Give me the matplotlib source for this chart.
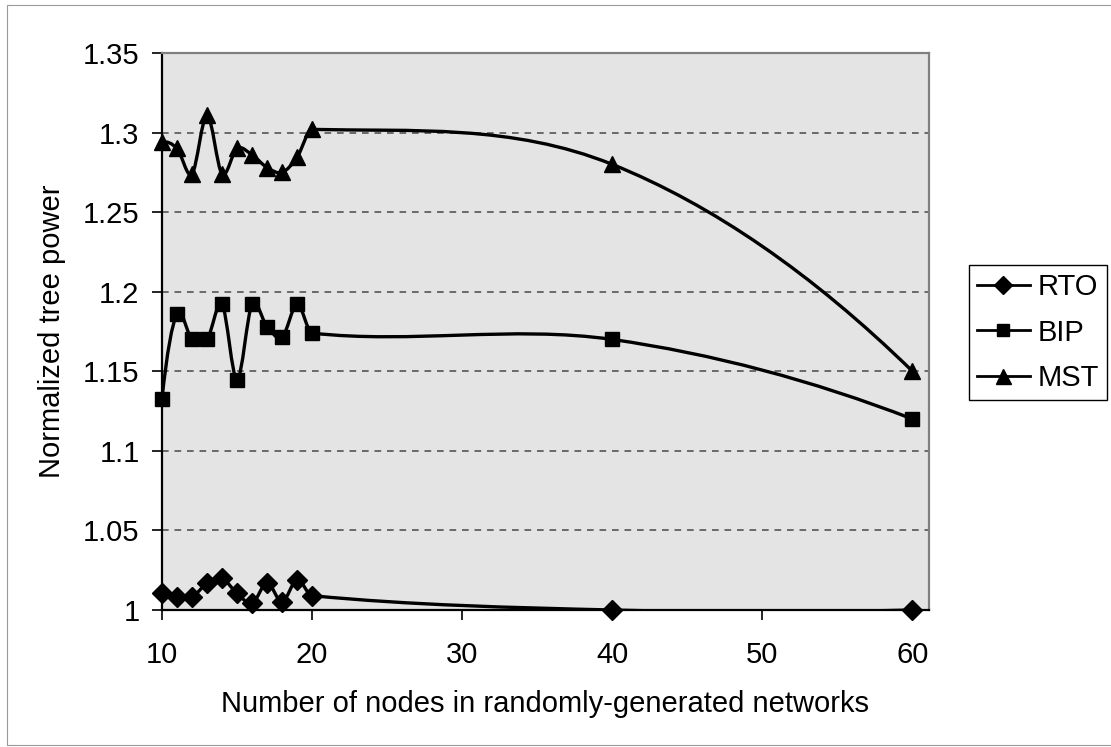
import numpy as np
import matplotlib
matplotlib.use("Agg")
import matplotlib.pyplot as plt
from matplotlib.path import Path
from matplotlib.patches import PathPatch, Rectangle
from matplotlib.lines import Line2D

plt.rcParams["font.family"] = ["Liberation Sans", "DejaVu Sans"]

# values
nodes = [10, 11, 12, 13, 14, 15, 16, 17, 18, 19, 20, 40, 60]
rto = [1.0108, 1.0083, 1.0083, 1.0167, 1.0198, 1.0104, 1.0042, 1.017, 1.0052, 1.019, 1.009, 1.0, 1.0]
bip = [1.1327, 1.186, 1.170, 1.170, 1.192, 1.1447, 1.192, 1.178, 1.1714, 1.192, 1.174, 1.170, 1.120]
mst = [1.294, 1.290, 1.274, 1.311, 1.274, 1.290, 1.286, 1.278, 1.275, 1.2845, 1.302, 1.280, 1.150]

series = [("RTO", rto, "D", 10), ("BIP", bip, "s", 10), ("MST", mst, "^", 12)]

x_ticks = [10, 20, 30, 40, 50, 60]
y_ticks = [1, 1.05, 1.1, 1.15, 1.2, 1.25, 1.3, 1.35]
y_labels = ["1", "1.05", "1.1", "1.15", "1.2", "1.25", "1.3", "1.35"]

FS = 21


def smooth_path(xs, ys):
    # smoothed line like a spreadsheet "smoothed line" option (cubic Hermite -> Bezier)
    xs = np.asarray(xs, float)
    ys = np.asarray(ys, float)
    n = len(xs)
    m = np.zeros(n)
    for i in range(1, n - 1):
        m[i] = (ys[i + 1] - ys[i - 1]) / (xs[i + 1] - xs[i - 1])
    m[0] = 2 * (ys[1] - ys[0]) / (xs[1] - xs[0]) - m[1]
    m[-1] = 2 * (ys[-1] - ys[-2]) / (xs[-1] - xs[-2]) - m[-2]
    verts = [(xs[0], ys[0])]
    codes = [Path.MOVETO]
    for i in range(n - 1):
        h = xs[i + 1] - xs[i]
        verts += [(xs[i] + h / 3, ys[i] + m[i] * h / 3),
                  (xs[i + 1] - h / 3, ys[i + 1] - m[i + 1] * h / 3),
                  (xs[i + 1], ys[i + 1])]
        codes += [Path.CURVE4] * 3
    return Path(verts, codes)


fig = plt.figure(figsize=(11.11, 7.47), dpi=100)
ax = fig.add_axes([162 / 1111, 1 - 610 / 747, 767 / 1111, 557 / 747])
ax.set_facecolor("#e4e4e4")

ax.set_xlim(10, 61.1)
ax.set_ylim(1, 1.35)

for yv in y_ticks[1:-1]:
    ax.axhline(yv, color="#555555", lw=1.2, dashes=(4, 3.5), zorder=1)

handles = []
for name, vals, mk, ms in series:
    ax.add_patch(PathPatch(smooth_path(nodes, vals), fill=False, edgecolor="black",
                           lw=2.4, zorder=3, capstyle="round", joinstyle="round"))
    ax.plot(nodes, vals, linestyle="none", marker=mk, markersize=ms,
            color="black", zorder=4, clip_on=False)
    handles.append(Line2D([], [], color="black", lw=2.0, marker=mk, markersize=ms * 0.9, label=name))

ax.set_xticks(x_ticks)
ax.set_xticklabels([str(v) for v in x_ticks])
ax.set_yticks(y_ticks)
ax.set_yticklabels(y_labels)
ax.tick_params(axis="both", direction="out", length=7.2, width=1.2, labelsize=FS, colors="black")
ax.tick_params(axis="x", pad=15)
ax.tick_params(axis="y", pad=9)

for side in ["left", "bottom"]:
    ax.spines[side].set_color("black")
    ax.spines[side].set_linewidth(1.6)
for side in ["top", "right"]:
    ax.spines[side].set_color("#808080")
    ax.spines[side].set_linewidth(1.6)

fig.text(545 / 1111, 1 - 712 / 747, "Number of nodes in randomly-generated networks",
         ha="center", va="baseline", fontsize=FS)
fig.text(52 / 1111, 1 - 331.5 / 747, "Normalized tree power",
         ha="center", va="center", rotation=90, fontsize=FS)

leg = ax.legend(handles=handles, loc="upper left",
                bbox_to_anchor=(969 / 1111, 1 - 265 / 747), bbox_transform=fig.transFigure,
                fontsize=FS, frameon=True, fancybox=False, edgecolor="black",
                framealpha=1, borderpad=0.28, labelspacing=0.6,
                handlelength=1.8, handletextpad=0.28, borderaxespad=0)
leg.get_frame().set_linewidth(1.0)

# outer chart border
fig.patches.append(Rectangle((7 / 1111, 2 / 747), 1110 / 1111, 740 / 747,
                             transform=fig.transFigure, fill=False,
                             edgecolor="#9a9a9a", lw=0.8))

plt.savefig("out.png", dpi=100)
